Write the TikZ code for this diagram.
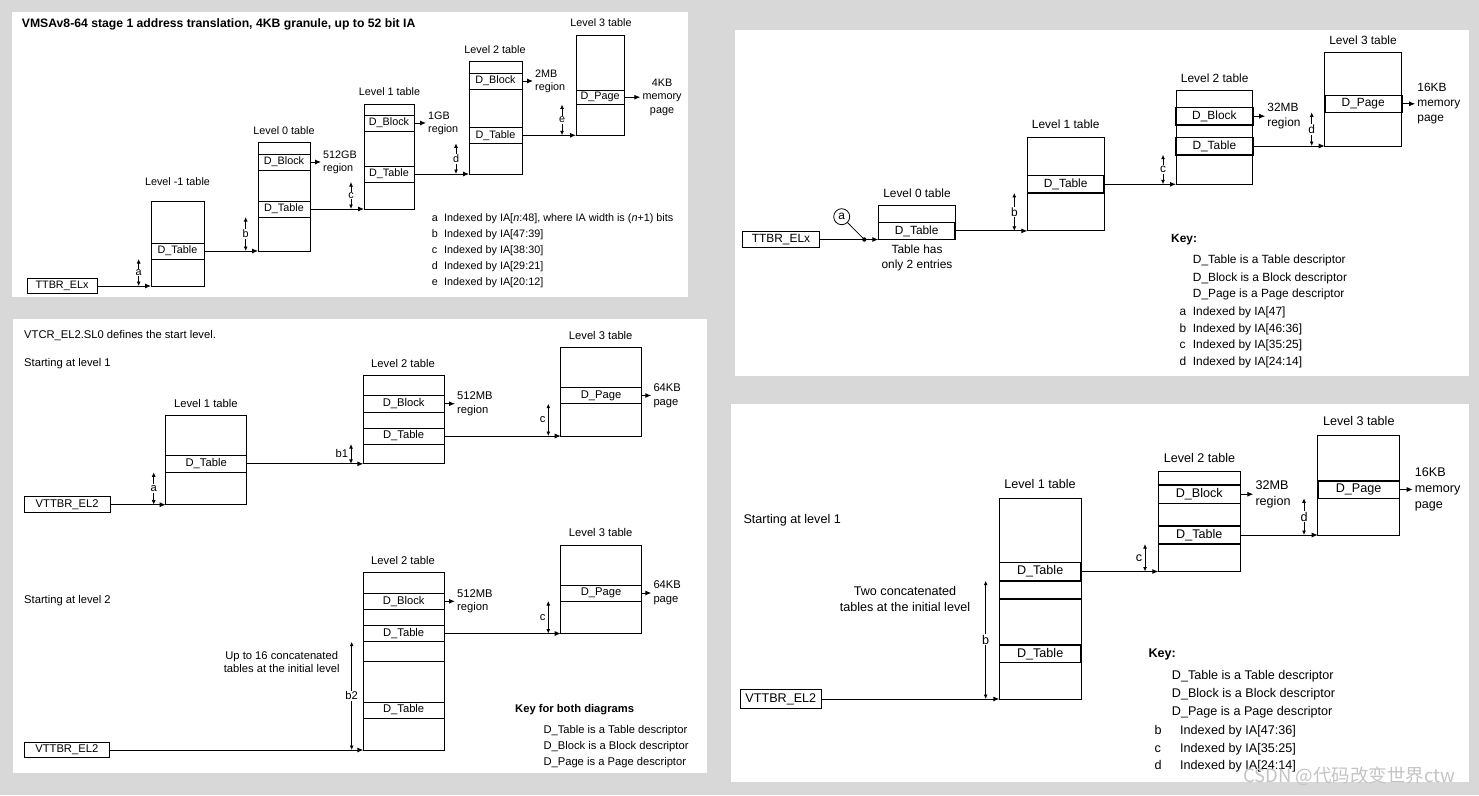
\documentclass[tikz,border=0pt]{standalone}
\usepackage{fontspec}
\setmainfont{Liberation Sans}
\newfontfamily\cjkfont{Noto Sans CJK SC}
\usetikzlibrary{arrows.meta,positioning}

\definecolor{pagegrey}{RGB}{216,216,216}
\definecolor{markgrey}{RGB}{196,196,196}

\newcommand{\panelAfont}{\fontsize{10.8}{13.3}\selectfont}
\newcommand{\panelAtitle}{\fontsize{12.2}{14}\selectfont\bfseries}
\newcommand{\panelBfont}{\fontsize{11.9}{15}\selectfont}
\newcommand{\panelCfont}{\fontsize{11.2}{13.8}\selectfont}
\newcommand{\panelDfont}{\fontsize{12.6}{16}\selectfont}

\tikzset{
  tbl/.style={draw, line width=0.9pt, anchor=south west, inner sep=0pt, outer sep=0pt},
  entry/.style={draw, line width=0.9pt, anchor=west, inner sep=0pt, outer sep=0pt, minimum height=16pt},
  entrybold/.style={entry, line width=1.6pt},
  regbox/.style={draw, line width=0.9pt, anchor=west, inner sep=0pt, outer sep=0pt, minimum height=16pt},
  link/.style={line width=0.9pt, -{Latex[length=6pt,width=5pt]}},
  dimarrow/.style={line width=0.9pt, {Latex[length=4.5pt,width=4pt]}-{Latex[length=4.5pt,width=4pt]}},
  dimtag/.style={midway, fill=white, inner sep=1pt},
  sidetag/.style={midway, left, inner sep=2.5pt},
  regiontxt/.style={align=left, inner xsep=2pt, inner ysep=0pt},
  plaintxt/.style={anchor=west, inner sep=0pt},
}

\begin{document}
\begin{tikzpicture}[x=1pt,y=1pt,yscale=-1]

%Shape: Background
\fill[pagegrey] (0,0) rectangle (1479,795);

%%%%%%%%%%%%%%%% Panel 1: stage 1, 4KB granule
\fill[white] (12,12) rectangle (688,297);
\begin{scope}[font=\panelAfont]
% Text Node
\node[plaintxt, font=\panelAtitle] (p1title) at (21.7,24.7) {VMSAv8-64 stage 1 address translation, 4KB granule, up to 52 bit IA};

%Shape: Register
\node[regbox, minimum width=70pt, minimum height=15pt] (p1ttbr) at (27,286) {TTBR\_ELx};

%Shape: Level -1 table
\node[tbl, minimum width=53pt, minimum height=85pt] (p1Lm1) at (151,286) {};
\node[entry, minimum width=53pt] (p1Lm1t) at (151,251) {D\_Table};
\node (p1Lm1lbl) at (177.5,181.7) {Level -1 table};

%Shape: Level 0 table
\node[tbl, minimum width=52pt, minimum height=108.3pt] (p1L0) at (258,251) {};
\node[entry, minimum width=52pt] (p1L0b) at (258,162) {D\_Block};
\node[entry, minimum width=52pt] (p1L0t) at (258,209) {D\_Table};
\node (p1L0lbl) at (284,130.7) {Level 0 table};
\node[regiontxt, right=11pt of p1L0b] (p1L0reg) {512GB\\region};

%Shape: Level 1 table
\node[tbl, minimum width=50pt, minimum height=105pt] (p1L1) at (364,209) {};
\node[entry, minimum width=50pt] (p1L1b) at (364,123) {D\_Block};
\node[entry, minimum width=50pt] (p1L1t) at (364,174) {D\_Table};
\node (p1L1lbl) at (389.5,92) {Level 1 table};
\node[regiontxt, right=12pt of p1L1b] (p1L1reg) {1GB\\region};

%Shape: Level 2 table
\node[tbl, minimum width=53pt, minimum height=112.7pt] (p1L2) at (469,174) {};
\node[entry, minimum width=53pt] (p1L2b) at (469,81) {D\_Block};
\node[entry, minimum width=53pt] (p1L2t) at (469,135.3) {D\_Table};
\node (p1L2lbl) at (495,49.3) {Level 2 table};
\node[regiontxt, right=11pt of p1L2b] (p1L2reg) {2MB\\region};

%Shape: Level 3 table
\node[tbl, minimum width=48.3pt, minimum height=100.3pt] (p1L3) at (576,135.3) {};
\node[entry, minimum width=48.3pt, minimum height=14.5pt] (p1L3p) at (576,97.2) {D\_Page};
\node (p1L3lbl) at (601,22.3) {Level 3 table};
\node[regiontxt, align=center, right=16pt of p1L3p] (p1L3reg) {4KB\\memory\\page};

% Connectors
\draw[link] (p1ttbr) -- (p1Lm1.south west);
\draw[link] (p1Lm1t) -- (p1L0.south west);
\draw[link] (p1L0t) -- (p1L1.south west);
\draw[link] (p1L1t) -- (p1L2.south west);
\draw[link] (p1L2t) -- (p1L3.south west);
\draw[link] (p1L0b) -- (p1L0reg);
\draw[link] (p1L1b) -- (p1L1reg);
\draw[link] (p1L2b) -- (p1L2reg);
\draw[link] (p1L3p) -- (p1L3reg);

% Index ranges
\draw[dimarrow] ([xshift=-12.3pt]p1Lm1t.south west) -- ([xshift=-12.3pt]p1Lm1.south west) node[dimtag] (p1da) {a};
\draw[dimarrow] ([xshift=-12.3pt]p1L0t.south west) -- ([xshift=-12.3pt]p1L0.south west) node[dimtag] (p1db) {b};
\draw[dimarrow] ([xshift=-13pt]p1L1t.south west) -- ([xshift=-13pt]p1L1.south west) node[dimtag] (p1dc) {c};
\draw[dimarrow] ([xshift=-13pt]p1L2t.south west) -- ([xshift=-13pt]p1L2.south west) node[dimtag] (p1dd) {d};
\draw[dimarrow] ([xshift=-14pt]p1L3p.south west) -- ([xshift=-14pt]p1L3.south west) node[dimtag] (p1de) {e};

% Text Node
\node[plaintxt] (p1ka) at (431.7,218.5) {\makebox[12.3pt][l]{a}Indexed by IA[\textit{n}:48], where IA width is (\textit{n}+1) bits};
\node[plaintxt] (p1kb) at (431.7,234.5) {\makebox[12.3pt][l]{b}Indexed by IA[47:39]};
\node[plaintxt] (p1kc) at (431.7,250.5) {\makebox[12.3pt][l]{c}Indexed by IA[38:30]};
\node[plaintxt] (p1kd) at (431.7,266.5) {\makebox[12.3pt][l]{d}Indexed by IA[29:21]};
\node[plaintxt] (p1ke) at (431.7,282.5) {\makebox[12.3pt][l]{e}Indexed by IA[20:12]};
\end{scope}

%%%%%%%%%%%%%%%% Panel 2: 16KB granule, level 0 with two entries
\fill[white] (735,30) rectangle (1469,376);
\begin{scope}[font=\panelBfont]
%Shape: Register
\node[regbox, minimum width=76.6pt] (p2ttbr) at (742.7,239.5) {TTBR\_ELx};
\coordinate (p2dot) at (864.3,239.5);
\node[circle, draw, line width=0.8pt, inner sep=0pt, minimum size=16pt] (p2a) at (841.7,216.7) {a};

%Shape: Level 0 table
\node[tbl, minimum width=76.7pt, minimum height=33.8pt] (p2L0) at (878.3,239.5) {};
\node[entrybold, minimum width=76.7pt, minimum height=17.2pt] (p2L0t) at (878.3,230.9) {D\_Table};
\node (p2L0lbl) at (917,193) {Level 0 table};
\node[align=center] (p2L0note) at (917,258) {Table has\\only 2 entries};

%Shape: Level 1 table
\node[tbl, minimum width=76.7pt, minimum height=93.4pt] (p2L1) at (1027.3,230.9) {};
\node[entrybold, minimum width=76.7pt, minimum height=17.3pt] (p2L1t) at (1027.3,184.3) {D\_Table};
\node (p2L1lbl) at (1065.7,124.7) {Level 1 table};

%Shape: Level 2 table
\node[tbl, minimum width=76.7pt, minimum height=93.6pt] (p2L2) at (1176,184.3) {};
\node[entrybold, minimum width=76.7pt, minimum height=17.7pt] (p2L2b) at (1176,116.2) {D\_Block};
\node[entrybold, minimum width=76.7pt, minimum height=17.4pt] (p2L2t) at (1176,146) {D\_Table};
\node (p2L2lbl) at (1214.7,78) {Level 2 table};
\node[regiontxt, right=12.5pt of p2L2b] (p2L2reg) {32MB\\region};

%Shape: Level 3 table
\node[tbl, minimum width=77pt, minimum height=93.7pt] (p2L3) at (1324.7,146) {};
\node[entrybold, minimum width=77pt, minimum height=17pt] (p2L3p) at (1324.7,103.8) {D\_Page};
\node (p2L3lbl) at (1363,40) {Level 3 table};
\node[regiontxt, right=13.5pt of p2L3p] (p2L3reg) {16KB\\memory\\page};

% Connectors
\draw[line width=0.9pt] (p2ttbr) -- (p2dot);
\draw[line width=0.8pt] (p2a) -- (p2dot);
\fill (p2dot) circle (2.2pt);
\draw[link] (p2dot) -- (p2L0.south west);
\draw[link] (p2L0t) -- (p2L1.south west);
\draw[link] (p2L1t) -- (p2L2.south west);
\draw[link] (p2L2t) -- (p2L3.south west);
\draw[link] (p2L2b) -- (p2L2reg);
\draw[link] (p2L3p) -- (p2L3reg);

% Index ranges
\draw[dimarrow] ([xshift=-13pt]p2L1t.south west) -- ([xshift=-13pt]p2L1.south west) node[dimtag] (p2db) {b};
\draw[dimarrow] ([xshift=-13pt]p2L2t.south west) -- ([xshift=-13pt]p2L2.south west) node[dimtag] (p2dc) {c};
\draw[dimarrow] ([xshift=-13pt]p2L3p.south west) -- ([xshift=-13pt]p2L3.south west) node[dimtag] (p2dd) {d};

% Text Node
\node[plaintxt, font=\panelBfont\bfseries] (p2key) at (1171,239.3) {Key:};
\node[plaintxt] (p2k1) at (1192.7,260.7) {D\_Table is a Table descriptor};
\node[plaintxt] (p2k2) at (1192.7,278) {D\_Block is a Block descriptor};
\node[plaintxt] (p2k3) at (1192.7,294.7) {D\_Page is a Page descriptor};
\node[plaintxt] (p2k4) at (1179.3,312) {\makebox[13.4pt][l]{a}Indexed by IA[47]};
\node[plaintxt] (p2k5) at (1179.3,329.3) {\makebox[13.4pt][l]{b}Indexed by IA[46:36]};
\node[plaintxt] (p2k6) at (1179.3,345.7) {\makebox[13.4pt][l]{c}Indexed by IA[35:25]};
\node[plaintxt] (p2k7) at (1179.3,362.7) {\makebox[13.4pt][l]{d}Indexed by IA[24:14]};
\end{scope}

%%%%%%%%%%%%%%%% Panel 3: stage 2, 64KB granule
\fill[white] (13,319) rectangle (707,773);
\begin{scope}[font=\panelCfont]
% Text Node
\node[plaintxt] (p3head) at (24,335.3) {VTCR\_EL2.SL0 defines the start level.};
\node[plaintxt] (p3start1) at (24,363.7) {Starting at level 1};

%Shape: Register
\node[regbox, minimum width=85.7pt] (p3vttbr1) at (24.3,504.7) {VTTBR\_EL2};

%Shape: Level 1 table
\node[tbl, minimum width=81pt, minimum height=89pt] (p3L1) at (165.7,504.7) {};
\node[entry, minimum width=81pt, minimum height=17pt] (p3L1t) at (165.7,463.8) {D\_Table};
\node (p3L1lbl) at (205.8,403.7) {Level 1 table};

%Shape: Level 2 table
\node[tbl, minimum width=80.7pt, minimum height=88.7pt] (p3L2) at (363.3,463.8) {};
\node[entry, minimum width=80.7pt, minimum height=16.7pt] (p3L2b) at (363.3,403.7) {D\_Block};
\node[entry, minimum width=80.7pt] (p3L2t) at (363.3,436) {D\_Table};
\node (p3L2lbl) at (403,363.3) {Level 2 table};
\node[regiontxt, right=11pt of p3L2b] (p3L2reg) {512MB\\region};

%Shape: Level 3 table
\node[tbl, minimum width=80.6pt, minimum height=88.4pt] (p3L3) at (560.7,436) {};
\node[entry, minimum width=80.6pt, minimum height=16.4pt] (p3L3p) at (560.7,395.5) {D\_Page};
\node (p3L3lbl) at (600.7,335) {Level 3 table};
\node[regiontxt, right=10pt of p3L3p] (p3L3reg) {64KB\\page};

% Text Node
\node[plaintxt] (p3start2) at (24,601) {Starting at level 2};

%Shape: Register
\node[regbox, minimum width=85pt, minimum height=14.3pt] (p3vttbr2) at (24.3,750) {VTTBR\_EL2};

%Shape: Concatenated level 2 tables
\node[tbl, minimum width=80.7pt, minimum height=177.3pt] (p3M2) at (363.3,750) {};
\node[entry, minimum width=80.7pt] (p3M2b) at (363.3,601.3) {D\_Block};
\node[entry, minimum width=80.7pt, minimum height=16.4pt] (p3M2t) at (363.3,633.5) {D\_Table};
\draw[line width=0.9pt] (363.3,661.7) -- (444,661.7);
\node[entry, minimum width=80.7pt] (p3M2u) at (363.3,710) {D\_Table};
\node (p3M2lbl) at (403,560.7) {Level 2 table};
\node[regiontxt, right=11pt of p3M2b] (p3M2reg) {512MB\\region};
\node[align=center] (p3M2note) at (281.7,662) {Up to 16 concatenated\\tables at the initial level};

%Shape: Level 3 table
\node[tbl, minimum width=80.6pt, minimum height=88.5pt] (p3M3) at (560.7,633.5) {};
\node[entry, minimum width=80.6pt] (p3M3p) at (560.7,593) {D\_Page};
\node (p3M3lbl) at (600.7,532) {Level 3 table};
\node[regiontxt, right=10pt of p3M3p] (p3M3reg) {64KB\\page};

% Connectors
\draw[link] (p3vttbr1) -- (p3L1.south west);
\draw[link] (p3L1t) -- (p3L2.south west);
\draw[link] (p3L2t) -- (p3L3.south west);
\draw[link] (p3L2b) -- (p3L2reg);
\draw[link] (p3L3p) -- (p3L3reg);
\draw[link] (p3vttbr2) -- (p3M2.south west);
\draw[link] (p3M2t) -- (p3M3.south west);
\draw[link] (p3M2b) -- (p3M2reg);
\draw[link] (p3M3p) -- (p3M3reg);

% Index ranges
\draw[dimarrow] ([xshift=-12pt]p3L1t.south west) -- ([xshift=-12pt]p3L1.south west) node[dimtag] (p3da) {a};
\draw[dimarrow] ([xshift=-12.3pt]p3L2t.south west) -- ([xshift=-12.3pt]p3L2.south west) node[sidetag] (p3db1) {b1};
\draw[dimarrow] ([xshift=-12.4pt]p3L3p.south west) -- ([xshift=-12.4pt]p3L3.south west) node[sidetag] (p3dc) {c};
\draw[dimarrow] ([xshift=-11.6pt]p3M2t.south west) -- ([xshift=-11.6pt]p3M2.south west) node[dimtag] (p3db2) {b2};
\draw[dimarrow] ([xshift=-12.4pt]p3M3p.south west) -- ([xshift=-12.4pt]p3M3.south west) node[sidetag] (p3dc2) {c};

% Text Node
\node[plaintxt, font=\panelCfont\bfseries] (p3key) at (515,710) {Key for both diagrams};
\node[plaintxt] (p3k1) at (543.3,730.7) {D\_Table is a Table descriptor};
\node[plaintxt] (p3k2) at (543.3,746.7) {D\_Block is a Block descriptor};
\node[plaintxt] (p3k3) at (543.3,762.7) {D\_Page is a Page descriptor};
\end{scope}

%%%%%%%%%%%%%%%% Panel 4: stage 2, 16KB granule, two concatenated tables
\fill[white] (731,404) rectangle (1469,782);
\begin{scope}[font=\panelDfont]
% Text Node
\node[plaintxt] (p4start) at (743.3,520.7) {Starting at level 1};

%Shape: Register
\node[regbox, minimum width=81.7pt, minimum height=18.3pt] (p4vttbr) at (740,699) {VTTBR\_EL2};

%Shape: Concatenated level 1 tables
\node[tbl, minimum width=81.7pt, minimum height=200.3pt] (p4L1) at (999.3,699) {};
\node[entrybold, minimum width=81.7pt, minimum height=18.4pt] (p4L1t) at (999.3,571.5) {D\_Table};
\draw[line width=1.3pt] (999.3,599) -- (1081,599);
\node[entrybold, minimum width=81.7pt, minimum height=17.3pt] (p4L1u) at (999.3,653.7) {D\_Table};
\node (p4L1lbl) at (1040,484.3) {Level 1 table};
\node[align=center] (p4L1note) at (905,599) {Two concatenated\\tables at the initial level};

%Shape: Level 2 table
\node[tbl, minimum width=82pt, minimum height=100.5pt] (p4L2) at (1158.3,571.5) {};
\node[entrybold, minimum width=82pt, minimum height=18.3pt] (p4L2b) at (1158.3,494.2) {D\_Block};
\node[entrybold, minimum width=82pt, minimum height=18pt] (p4L2t) at (1158.3,535) {D\_Table};
\node (p4L2lbl) at (1199.5,457.7) {Level 2 table};
\node[regiontxt, right=13pt of p4L2b] (p4L2reg) {32MB\\region};

%Shape: Level 3 table
\node[tbl, minimum width=81.6pt, minimum height=100pt] (p4L3) at (1317.7,535) {};
\node[entrybold, minimum width=81.6pt, minimum height=17.6pt] (p4L3p) at (1317.7,489.5) {D\_Page};
\node (p4L3lbl) at (1358.8,421) {Level 3 table};
\node[regiontxt, right=13.4pt of p4L3p] (p4L3reg) {16KB\\memory\\page};

% Connectors
\draw[link] (p4vttbr) -- (p4L1.south west);
\draw[link] (p4L1t) -- (p4L2.south west);
\draw[link] (p4L2t) -- (p4L3.south west);
\draw[link] (p4L2b) -- (p4L2reg);
\draw[link] (p4L3p) -- (p4L3reg);

% Index ranges
\draw[dimarrow] ([xshift=-13.6pt]p4L1t.south west) -- ([xshift=-13.6pt]p4L1.south west) node[dimtag] (p4db) {b};
\draw[dimarrow] ([xshift=-13.3pt]p4L2t.south west) -- ([xshift=-13.3pt]p4L2.south west) node[sidetag] (p4dc) {c};
\draw[dimarrow] ([xshift=-13.7pt]p4L3p.south west) -- ([xshift=-13.7pt]p4L3.south west) node[dimtag] (p4dd) {d};

% Text Node
\node[plaintxt, font=\panelDfont\bfseries] (p4key) at (1148.3,654) {Key:};
\node[plaintxt] (p4k1) at (1171.7,676) {D\_Table is a Table descriptor};
\node[plaintxt] (p4k2) at (1171.7,694) {D\_Block is a Block descriptor};
\node[plaintxt] (p4k3) at (1171.7,712.3) {D\_Page is a Page descriptor};
\node[plaintxt] (p4k4) at (1154.5,731) {\makebox[25.5pt][l]{b}Indexed by IA[47:36]};
\node[plaintxt] (p4k5) at (1154.5,749) {\makebox[25.5pt][l]{c}Indexed by IA[35:25]};
\node[plaintxt] (p4k6) at (1154.5,766.7) {\makebox[25.5pt][l]{d}Indexed by IA[24:14]};
\end{scope}

% Text Node
\node[plaintxt, font=\cjkfont\fontsize{18.5}{20}\selectfont, text=markgrey] (mark) at (1243,776) {CSDN @代码改变世界ctw};

\end{tikzpicture}
\end{document}
